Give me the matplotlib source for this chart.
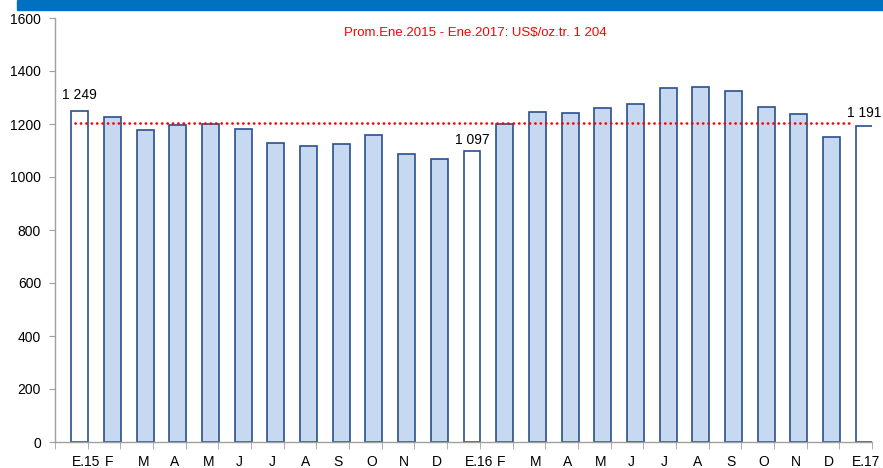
import matplotlib
matplotlib.use("Agg")
import matplotlib.pyplot as plt
from matplotlib import font_manager as fm
from matplotlib.patches import Rectangle

names = {f.name for f in fm.fontManager.ttflist}
FAM = ['Liberation Sans Narrow', 'Liberation Sans', 'DejaVu Sans'] if 'Liberation Sans Narrow' in names else ['Liberation Sans', 'DejaVu Sans']
plt.rcParams['font.family'] = FAM

categories = ["E.15", "F", "M", "A", "M", "J", "J", "A", "S", "O", "N", "D",
              "E.16", "F", "M", "A", "M", "J", "J", "A", "S", "O", "N", "D", "E.17"]
prices = [1249, 1227, 1179, 1198, 1199, 1181, 1130, 1117, 1125, 1159, 1086, 1068,
          1097, 1200, 1246, 1242, 1259, 1276, 1337, 1341, 1326, 1266, 1238, 1151, 1191]
january = [True, False, False, False, False, False, False, False, False, False, False, False,
           True, False, False, False, False, False, False, False, False, False, False, False, True]
average = 1204
avg_label = "Prom.Ene.2015 - Ene.2017: US$/oz.tr. 1 204"
label_texts = {0: "1 249", 12: "1 097", 24: "1 191"}
yticks = [0, 200, 400, 600, 800, 1000, 1200, 1400, 1600]

W, H = 883, 468
fig = plt.figure(figsize=(W / 100, H / 100), dpi=100)
ax = fig.add_axes([55 / W, (H - 442) / H, (872 - 55) / W, (442 - 18) / H])

edge = "#2A4F8C"
fills = ["white" if j else "#C6D9F0" for j in january]
x = list(range(len(prices)))
ax.bar(x, prices, width=0.52, align='edge', color=fills,
       edgecolor=edge, linewidth=1.2, zorder=2)

ax.plot([0.1, 23.87], [average, average], color="#FF0000", lw=1.9,
        linestyle=(0, (0.1, 1.95)), dash_capstyle='round', zorder=3)

offs = {0: 6.5, 12: 3, 24: 4.5}
for i, t in label_texts.items():
    ax.annotate(t, (i + 0.26, prices[i]), xytext=(0, offs[i]), textcoords='offset points',
                ha='center', va='bottom', fontsize=10, color="#000000")

ax.text(0.515, 0.965, avg_label, transform=ax.transAxes, ha='center', va='center',
        color="#FF0000", fontsize=9.5)

ax.set_xlim(-0.5, len(prices) - 0.5)
ax.set_ylim(0, 1600)
ax.set_yticks(yticks)
ax.set_yticklabels([str(v) for v in yticks], fontsize=10)
ax.tick_params(axis='y', length=4, color="#A0A0A0", pad=6)

label_pos = [i + 0.03 for i in x]
label_pos[-1] = len(prices) - 1 - 0.13
ax.set_xticks(label_pos)
ax.set_xticklabels(categories, fontsize=10, ha='left')
ax.set_xticks([i - 0.5 for i in range(len(prices) + 1)], minor=True)
ax.tick_params(axis='x', which='major', length=0, pad=9.5)
ax.tick_params(axis='x', which='minor', length=5, color="#A0A0A0")

for s in ['top', 'right']:
    ax.spines[s].set_visible(False)
for s in ['left', 'bottom']:
    ax.spines[s].set_color("#A0A0A0")
    ax.spines[s].set_linewidth(1.0)

fig.patches.append(Rectangle((17 / W, 1 - 9.5 / H), 1 - 17 / W, 9.5 / H,
                             transform=fig.transFigure, color="#0070C0", zorder=0))

fig.savefig("out.png", dpi=100)
